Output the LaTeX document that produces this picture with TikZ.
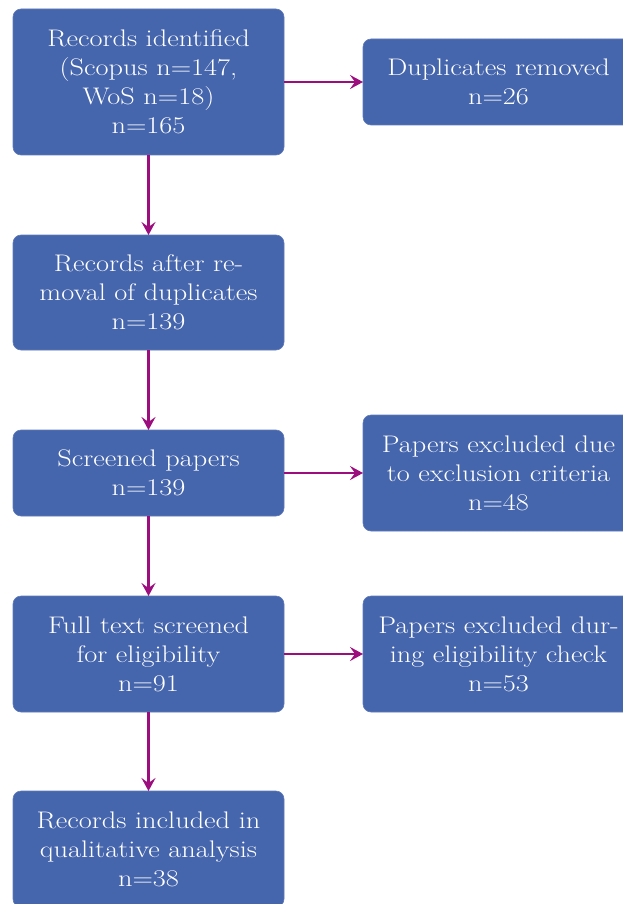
\documentclass[tikz,border=0pt]{standalone}
\usepackage{fontspec}
\setmainfont{Latin Modern Roman}[FakeStretch=1.18]
\usetikzlibrary{arrows.meta}
\definecolor{boxblue}{HTML}{4565AC}
\definecolor{flowmag}{HTML}{9C0E7E}
\tikzset{
  stagebox/.style={draw=boxblue!85!white, line width=0.6pt, fill=boxblue, rounded corners=8pt,
    minimum width=271pt, inner sep=0pt, outer sep=0pt, align=center, text=white,
    font=\fontsize{24}{29}\selectfont},
  flow/.style={draw=flowmag, line width=2.5pt,
    -{Stealth[length=13pt, width=14pt, inset=5pt]}},
}
\begin{document}
\begin{tikzpicture}[x=1pt, y=-1pt]
\useasboundingbox (0,0) rectangle (623,904);
\clip (0,0) rectangle (623,904);
\node[stagebox, minimum height=146pt] (ident) at (148.5,82) {Records identified\\(Scopus n=147,\\WoS n=18)\\n=165};
\node[stagebox, minimum height=86pt] (dup) at (498.5,82) {Duplicates removed\\n=26};
\node[stagebox, minimum height=115pt] (after) at (148.5,292.5) {Records after re-\\moval of duplicates\\n=139};
\node[stagebox, minimum height=86pt] (screen) at (148.5,473) {Screened papers\\n=139};
\node[stagebox, minimum height=116pt] (excl) at (498.5,473) {Papers excluded due\\to exclusion criteria\\n=48};
\node[stagebox, minimum height=116pt] (full) at (148.5,654) {Full text screened\\for eligibility\\n=91};
\node[stagebox, minimum height=116pt] (elig) at (498.5,654) {Papers excluded dur-\\ing eligibility check\\n=53};
\node[stagebox, minimum height=116pt] (incl) at (148.5,849) {Records included in\\qualitative analysis\\n=38};
\draw[flow] (ident) -- (dup);
\draw[flow] (ident) -- (after);
\draw[flow] (after) -- (screen);
\draw[flow] (screen) -- (excl);
\draw[flow] (screen) -- (full);
\draw[flow] (full) -- (elig);
\draw[flow] (full) -- (incl);
\end{tikzpicture}
\end{document}
